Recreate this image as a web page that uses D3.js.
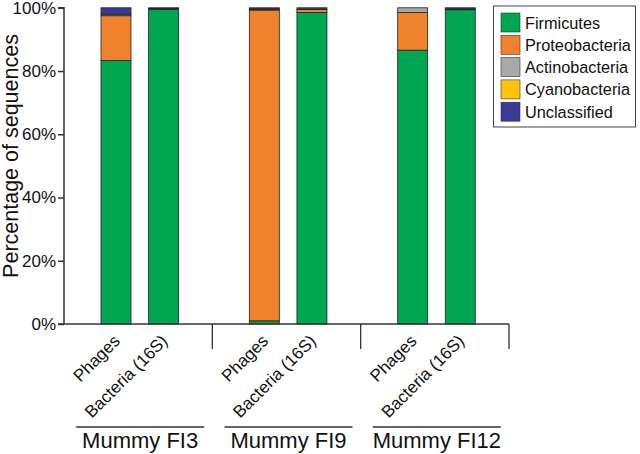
<!DOCTYPE html>
<html><head><meta charset="utf-8">
<script src="https://cdn.jsdelivr.net/npm/d3@7"></script>
<style>body{margin:0;background:#fff;} text{font-family:"Liberation Sans",Arial,sans-serif;fill:#111;}</style>
</head><body>
<svg id="c" width="640" height="454"></svg>
<script>
const groups = ["Mummy FI3", "Mummy FI9", "Mummy FI12"];
const subs = ["Phages", "Bacteria (16S)"];
const phyla = ["Firmicutes", "Proteobacteria", "Actinobacteria", "Cyanobacteria", "Unclassified"];
const colors = ["#00a651", "#f0822e", "#a7a9ac", "#ffc20e", "#393b97"];
const firmicutes     = [83.3, 99.5, 1.0, 98.5, 86.6, 99.4];
const proteobacteria = [14.2, 0.2, 98.3, 1.0, 11.9, 0.2];
const actinobacteria = [0.5, 0.1, 0.3, 0.0, 1.5, 0.0];
const cyanobacteria  = [0.0, 0.0, 0.0, 0.0, 0.0, 0.0];
const unclassified   = [2.0, 0.2, 0.4, 0.5, 0.0, 0.4];
const yTicks = [0, 20, 40, 60, 80, 100];

const rows = [];
groups.forEach((g, gi) => subs.forEach((s, si) => {
  const i = gi * 2 + si;
  rows.push({group: g, sub: s, Firmicutes: firmicutes[i], Proteobacteria: proteobacteria[i],
    Actinobacteria: actinobacteria[i], Cyanobacteria: cyanobacteria[i], Unclassified: unclassified[i]});
}));

const svg = d3.select("#c");
const x0 = 64, x1 = 509, yB = 324, yT = 7.8;
const y = d3.scaleLinear().domain([0, 100]).range([yB, yT]);
const xg = d3.scaleBand().domain(groups).range([x0, x1]).padding(0);
const xs = d3.scaleBand().domain(subs).range([37, 114.6]).paddingInner(0.37).paddingOuter(0);
const color = d3.scaleOrdinal().domain(phyla).range(colors);

const stack = d3.stack().keys(phyla)(rows);
svg.append("g").selectAll("g").data(stack).join("g")
  .attr("fill", d => color(d.key))
  .selectAll("rect").data(d => d.filter(p => p[1] - p[0] > 0)).join("rect")
  .attr("x", d => xg(d.data.group) + xs(d.data.sub))
  .attr("width", xs.bandwidth())
  .attr("y", d => y(d[1]))
  .attr("height", d => y(d[0]) - y(d[1]))
  .attr("stroke", "#222").attr("stroke-width", 0.8);

// y axis
const ya = svg.append("g").attr("transform", `translate(${x0},0)`)
  .call(d3.axisLeft(y).tickValues(yTicks).tickFormat(d => d + "%").tickSize(6).tickPadding(2));
ya.select(".domain").attr("stroke", "#333").attr("stroke-width", 1.5).attr("d", `M-6,${y(100)}H0V${yB}H-6`);
ya.selectAll(".tick line").attr("stroke", "#333").attr("stroke-width", 1.5);
ya.selectAll(".tick text").attr("font-size", 17).attr("fill", "#111")
  .style("font-family", '"Liberation Sans",Arial,sans-serif');

// x axis baseline and group dividers
svg.append("line").attr("x1", x0).attr("x2", x1).attr("y1", yB).attr("y2", yB)
  .attr("stroke", "#333").attr("stroke-width", 1.5);
svg.selectAll(".div").data(groups).join("line").attr("class", "div")
  .attr("x1", d => xg(d) + xg.bandwidth()).attr("x2", d => xg(d) + xg.bandwidth())
  .attr("y1", yB).attr("y2", 349).attr("stroke", "#333").attr("stroke-width", 1.3);

// sub labels
svg.selectAll(".sl").data(rows).join("text").attr("class", "sl")
  .attr("text-anchor", "end").attr("font-size", 17)
  .attr("transform", d => `translate(${xg(d.group) + xs(d.sub) + xs.bandwidth() / 2 + 5},${yB + 18}) rotate(-45)`)
  .text(d => d.sub);

// group labels
const gl = svg.selectAll(".gl").data(groups).join("g").attr("class", "gl")
  .attr("transform", d => `translate(${xg(d) + xg.bandwidth() / 2 + 2},0)`);
gl.append("line").attr("x1", -64).attr("x2", 64).attr("y1", 427).attr("y2", 427)
  .attr("stroke", "#333").attr("stroke-width", 1.3);
gl.append("text").attr("text-anchor", "middle").attr("y", 448).attr("font-size", 22).text(d => d);

// y label
svg.append("text").attr("transform", `translate(18,156) rotate(-90)`).attr("text-anchor", "middle")
  .attr("font-size", 21.5).text("Percentage of sequences");

// legend
const lg = svg.append("g");
lg.append("rect").attr("x", 493.5).attr("y", 6).attr("width", 142).attr("height", 121)
  .attr("fill", "#fff").attr("stroke", "#444").attr("stroke-width", 1);
const li = lg.selectAll(".li").data(phyla).join("g").attr("class", "li")
  .attr("transform", (d, i) => `translate(501,${13 + i * 22.3})`);
li.append("rect").attr("width", 19).attr("height", 19).attr("fill", d => color(d))
  .attr("stroke", "#333").attr("stroke-width", 0.6);
li.append("text").attr("x", 24).attr("y", 15.5).attr("font-size", 16.3).text(d => d);
</script>
</body></html>
